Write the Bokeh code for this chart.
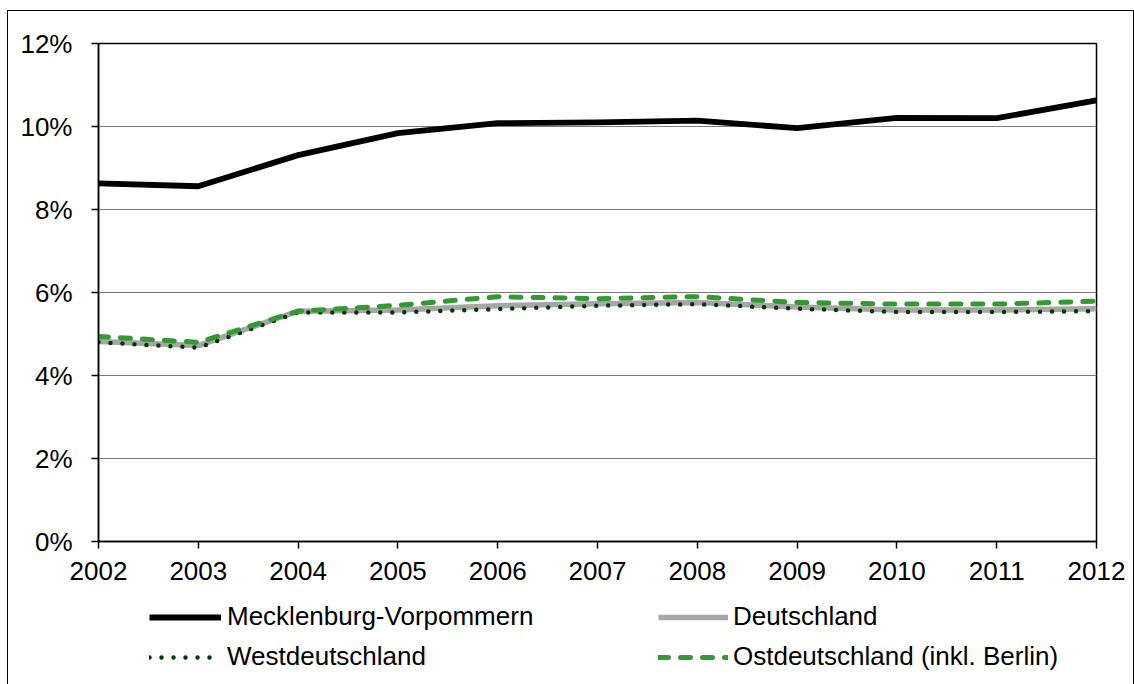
from bokeh.plotting import figure
from bokeh.layouts import column
from bokeh.models import Legend, LegendItem, FixedTicker, CustomJSTickFormatter, Range1d
from bokeh.embed import file_html
from bokeh.resources import INLINE

years = [2002, 2003, 2004, 2005, 2006, 2007, 2008, 2009, 2010, 2011, 2012]
mv = [8.63, 8.56, 9.31, 9.84, 10.08, 10.10, 10.14, 9.96, 10.21, 10.20, 10.63]
de = [4.82, 4.72, 5.55, 5.58, 5.68, 5.73, 5.76, 5.65, 5.58, 5.58, 5.61]
west = [4.80, 4.67, 5.52, 5.52, 5.60, 5.68, 5.72, 5.61, 5.53, 5.53, 5.55]
ost = [4.94, 4.80, 5.55, 5.69, 5.90, 5.85, 5.90, 5.76, 5.72, 5.72, 5.79]
y_ticks = [0, 2, 4, 6, 8, 10, 12]
labels = ["Mecklenburg-Vorpommern", "Deutschland", "Westdeutschland", "Ostdeutschland (inkl. Berlin)"]

FONT = "Liberation Sans"
W = 1127

styles = {
    "mv": dict(line_color="black", line_width=5.8, line_join="round"),
    "de": dict(line_color="#a6a6a6", line_width=5.5, line_join="round"),
    "west": dict(line_color="#053805", line_width=4.5, line_dash="0 12", line_cap="round"),
    "ost": dict(line_color="#339933", line_width=5, line_dash="10 12", line_cap="round"),
}

p = figure(width=W, height=590, output_backend="svg", toolbar_location=None,
           x_range=Range1d(2002, 2012), y_range=Range1d(0, 12),
           min_border_left=90, min_border_top=32, min_border_right=39, min_border_bottom=60)
p.styles = {"border-left": "1px solid black", "border-top": "1px solid black", "border-right": "1px solid black"}

p.background_fill_color = "white"
p.border_fill_color = "white"
p.outline_line_color = "black"
p.outline_line_width = 1.5

p.xgrid.visible = False
p.ygrid.ticker = FixedTicker(ticks=y_ticks)
p.ygrid.grid_line_color = "#7a7a7a"
p.ygrid.grid_line_width = 1

p.yaxis.ticker = FixedTicker(ticks=y_ticks)
p.yaxis.formatter = CustomJSTickFormatter(code="return tick.toFixed(0) + '%';")
p.xaxis.ticker = FixedTicker(ticks=years)
p.xaxis.formatter = CustomJSTickFormatter(code="return tick.toFixed(0);")

for ax in (p.xaxis[0], p.yaxis[0]):
    ax.axis_line_color = "black"
    ax.axis_line_width = 1.5
    ax.major_tick_line_color = "black"
    ax.major_tick_line_width = 1.5
    ax.major_tick_in = 0
    ax.major_tick_out = 7
    ax.minor_tick_line_color = None
    ax.major_label_text_font = FONT
    ax.major_label_text_font_size = "26px"
    ax.major_label_text_color = "black"
p.yaxis.major_label_standoff = 19
p.xaxis.major_label_standoff = 13

p.line(years, mv, **styles["mv"])
p.line(years, de, **styles["de"])
p.line(years, west, **styles["west"])
p.line(years, ost, **styles["ost"])

# legend strip below the chart (its frame is aligned with the chart's frame by the column)
LH = 84
q = figure(width=W, height=LH, output_backend="svg", toolbar_location=None,
           x_range=Range1d(0, 1), y_range=Range1d(0, 1),
           min_border_left=0, min_border_right=0, min_border_top=0, min_border_bottom=0,
           x_axis_type=None, y_axis_type=None)
q.styles = {"border-left": "1px solid black", "border-right": "1px solid black"}
q.grid.visible = False
q.outline_line_color = None
q.background_fill_color = "white"
q.border_fill_color = "white"

# same series, out of this strip's view: only their legend glyphs are shown
d_mv = q.line(years, mv, **styles["mv"])
d_de = q.line(years, de, **styles["de"])
d_west = q.line(years, west, **styles["west"])
d_ost = q.line(years, ost, **styles["ost"])


def make_legend(items, loc, gw, so):
    lg = Legend(items=items, location=loc, orientation="vertical")
    lg.label_text_font = FONT
    lg.label_text_font_size = "26px"
    lg.label_text_color = "black"
    lg.glyph_width = gw
    lg.glyph_height = 30
    lg.label_height = 30
    lg.label_standoff = so
    lg.spacing = 9
    lg.padding = 0
    lg.margin = 0
    lg.border_line_color = None
    lg.background_fill_alpha = 0
    return lg


leg1 = make_legend([LegendItem(label=labels[0], renderers=[d_mv]),
                    LegendItem(label=labels[2], renderers=[d_west])], (51, 12), 72, 6)
leg2 = make_legend([LegendItem(label=labels[1], renderers=[d_de]),
                    LegendItem(label=labels[3], renderers=[d_ost])], (560, 12), 70, 5)
q.add_layout(leg1, "center")
q.add_layout(leg2, "center")

layout = column(p, q, spacing=0)
layout.margin = (10, 0, 0, 7)

open("out.html", "w").write(file_html(layout, INLINE))
